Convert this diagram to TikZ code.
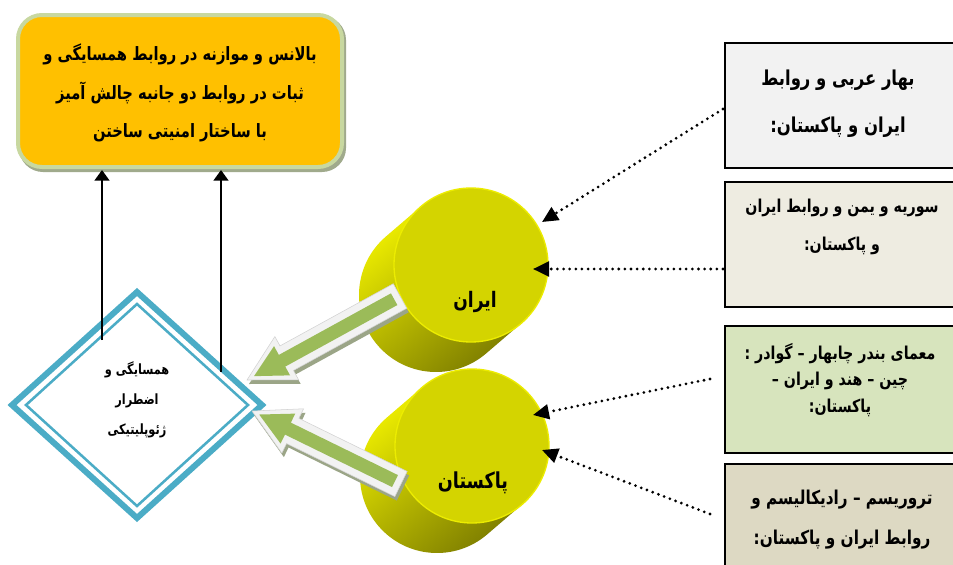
\documentclass[tikz,border=0pt]{standalone}
\usepackage{fontspec}
\usetikzlibrary{arrows.meta,calc}
\TeXXeTstate=1
\newfontfamily\fa[Script=Arabic, FakeStretch=0.8]{DejaVu Sans}
\definecolor{orangebox}{RGB}{255,192,0}
\definecolor{orangerim}{RGB}{200,216,160}
\definecolor{orangeshadow}{RGB}{160,170,140}
\definecolor{dblue}{RGB}{75,172,198}
\definecolor{cface}{RGB}{212,212,0}
\definecolor{crim}{RGB}{236,236,0}
\definecolor{bodyhi}{RGB}{240,240,0}
\definecolor{bodylo}{RGB}{125,125,0}
\definecolor{agreen}{RGB}{155,187,89}
\definecolor{awhite}{RGB}{242,242,242}
\definecolor{ashadow}{RGB}{155,165,135}
\definecolor{bxa}{RGB}{242,242,242}
\definecolor{bxb}{RGB}{238,236,225}
\definecolor{bxc}{RGB}{215,228,189}
\definecolor{bxd}{RGB}{221,217,195}

\newcommand\mycyl[3]{% name, x, y
  \coordinate (#1) at (#2,#3);
  \coordinate (#1back) at ($(#1)+(-35,30)$);
  \shade[top color=bodyhi, bottom color=bodylo, middle color=cface!85!black, shading angle=40]
    ($(#1)+(49.4:77)$) -- ($(#1back)+(49.4:77)$)
    arc[start angle=49.4, end angle=229.4, radius=77]
    -- ($(#1)+(229.4:77)$) -- cycle;
  \filldraw[fill=cface, draw=crim, line width=1pt] (#1) circle[radius=77];
}

\newcommand\blockarrow[3]{% prefix, tail, tip
  \coordinate (#1H) at ($(#3)!34pt!(#2)$);
  \coordinate (#1a) at ($(#2)!10.5pt!90:(#3)$);
  \coordinate (#1b) at ($(#1H)!10.5pt!90:(#3)$);
  \coordinate (#1c) at ($(#1H)!18.5pt!90:(#3)$);
  \coordinate (#1d) at ($(#1H)!18.5pt!-90:(#3)$);
  \coordinate (#1e) at ($(#1H)!10.5pt!-90:(#3)$);
  \coordinate (#1f) at ($(#2)!10.5pt!-90:(#3)$);
  \fill[ashadow] ($(#1a)+(2,4)$) -- ($(#1b)+(2,4)$) -- ($(#1c)+(2,4)$) -- ($(#3)+(2,4)$)
     -- ($(#1d)+(2,4)$) -- ($(#1e)+(2,4)$) -- ($(#1f)+(2,4)$) -- cycle;
  \filldraw[fill=awhite, draw=gray!35, line width=0.4pt] (#1a) -- (#1b) -- (#1c) -- (#3)
     -- (#1d) -- (#1e) -- (#1f) -- cycle;
  \coordinate (#1T) at ($(#2)!5pt!(#3)$);
  \coordinate (#1P) at ($(#3)!6pt!(#2)$);
  \coordinate (#1h) at ($(#1P)!24pt!(#2)$);
  \fill[agreen] ($(#1T)!5pt!90:(#3)$) -- ($(#1h)!5pt!90:(#3)$) -- ($(#1h)!12.5pt!90:(#3)$)
     -- (#1P) -- ($(#1h)!12.5pt!-90:(#3)$) -- ($(#1h)!5pt!-90:(#3)$) -- ($(#1T)!5pt!-90:(#3)$) -- cycle;
}

\begin{document}
\begin{tikzpicture}[x=0.75pt,y=-0.75pt,
  txt/.style={font=\fa\bfseries, align=center, inner sep=0pt},
  sidebox/.style={draw=black, line width=1.5pt, minimum width=180pt, anchor=north west, inner sep=0pt},
  dotarrow/.style={line width=2.3pt, dash pattern=on 0pt off 4.6pt, line cap=round,
     -{Triangle[length=12pt,width=11pt]}},
  uparrow/.style={line width=2pt, -{Triangle[length=8pt,width=11pt]}},
]
\useasboundingbox (0,0) rectangle (953,564);
\fill[white] (0,0) rectangle (953,564);
\clip (0,0) rectangle (953,564);

% top-left box
\fill[orangeshadow, rounded corners=18pt] (19,16) rectangle (346,172);
\node[draw=orangerim, fill=orangebox, line width=3pt, rounded corners=18pt,
      minimum width=243pt, minimum height=114pt, inner sep=0pt] (goal) at (180,91) {};
\node[txt, font=\fa\bfseries\fontsize{13.8}{29}\selectfont] (goaltext) at (180,93)
  {\beginR بالانس و موازنه در روابط همسایگی و\endR\\
   \beginR ثبات در  روابط دو جانبه چالش آمیز\endR\\
   \beginR با ساختار امنیتی ساختن\endR};

% diamond
\filldraw[fill=white, draw=dblue, line width=4.5pt] (137,292) -- (262,405) -- (137,518) -- (12,405) -- cycle;
\draw[dblue, line width=1.9pt] (137,304) -- (248,405) -- (137,506) -- (26,405) -- cycle;
\node[txt, font=\fa\bfseries\fontsize{10.6}{22.5}\selectfont] (dia) at (137,400)
  {\beginR همسایگی و\endR\\ \beginR اضطرار\endR\\ \beginR ژئوپلیتیکی\endR};
\coordinate (diaL) at (102,340);
\coordinate (diaR) at (221,372);
\coordinate (goalL) at (102,170);
\coordinate (goalR) at (221,170);
\draw[uparrow] (diaL) -- (goalL);
\draw[uparrow] (diaR) -- (goalR);

% cylinders
\mycyl{iran}{471}{265}
\mycyl{pak}{472}{446}
\node[txt, font=\fa\bfseries\fontsize{16}{20}\selectfont] (iranlbl) at (475,302) {\beginR ایران\endR};
\node[txt, font=\fa\bfseries\fontsize{16.5}{20}\selectfont] (paklbl) at (473,483) {\beginR پاکستان\endR};

% block arrows
\coordinate (iranout) at (400,296);
\coordinate (diain1) at (247,380);
\coordinate (pakout) at (401,484);
\coordinate (diain2) at (252,411);
\blockarrow{ia}{iranout}{diain1}
\blockarrow{pa}{pakout}{diain2}

% side boxes
\node[sidebox, fill=bxa, minimum height=93.75pt] (b1) at (724,42) {};
\node[sidebox, fill=bxb, minimum height=93.75pt] (b2) at (724,181) {};
\node[sidebox, fill=bxc, minimum height=95.25pt] (b3) at (724,325) {};
\node[sidebox, fill=bxd, minimum height=110pt] (b4) at (724,463) {};

\node[txt, font=\fa\bfseries\fontsize{15.4}{35}\selectfont] (b1t) at (838,104)
  {\beginR بهار عربی و روابط\endR\\ \beginR ایران و پاکستان:\endR};
\node[txt, font=\fa\bfseries\fontsize{13.3}{29}\selectfont] (b2t) at (842,227)
  {\beginR سوریه و یمن و روابط ایران\endR\\ \beginR و پاکستان:\endR};
\node[txt, font=\fa\bfseries\fontsize{13.3}{20}\selectfont] (b3t) at (840,380)
  {\beginR معمای بندر چابهار – گوادر :\endR\\ \beginR چین – هند و ایران –\endR\\ \beginR پاکستان:\endR};
\node[txt, font=\fa\bfseries\fontsize{14.3}{30}\selectfont] (b4t) at (842,520)
  {\beginR تروریسم – رادیکالیسم و\endR\\ \beginR روابط ایران و پاکستان:\endR};

% dotted arrows
\coordinate (s1) at (723,109);
\coordinate (s2) at (723,269);
\coordinate (s3) at (710,379);
\coordinate (s4) at (710,514);
\coordinate (e1) at (542,222);
\coordinate (e2) at (533,269);
\coordinate (e3) at (533,415);
\coordinate (e4) at (542,450);
\draw[dotarrow] (s1) -- (e1);
\draw[dotarrow] (s2) -- (e2);
\draw[dotarrow] (s3) -- (e3);
\draw[dotarrow] (s4) -- (e4);
\end{tikzpicture}
\end{document}
